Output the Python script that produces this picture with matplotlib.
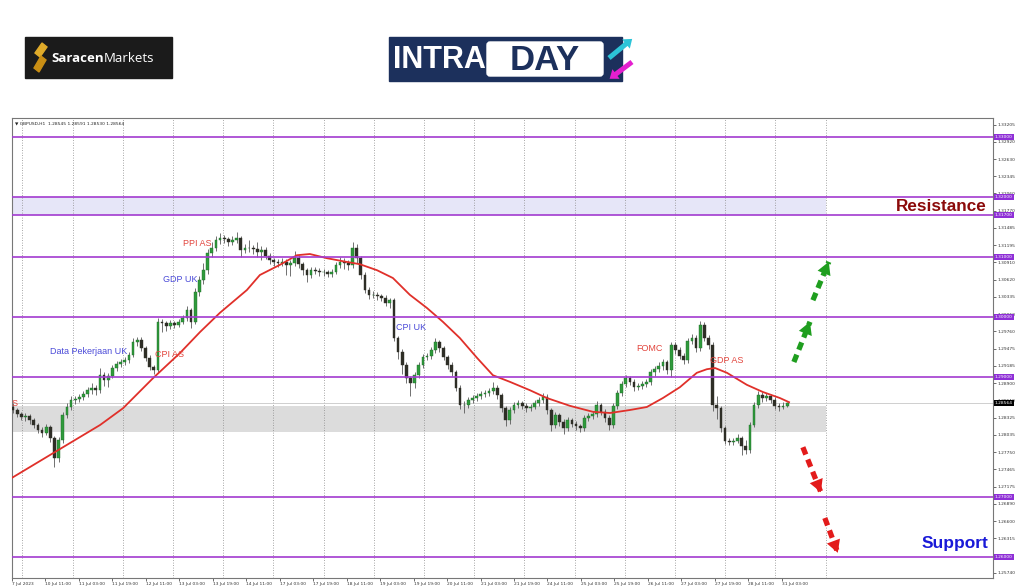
import numpy as np
import matplotlib.pyplot as plt
from matplotlib.patches import Rectangle, Polygon, FancyArrow, FancyBboxPatch

# GBPUSD H1 candles, two hours per candle (7 Jul 2023 19:00 -> 31 Jul 2023 06:00)
first_open = 1.2850
closes = [
    1.2845, 1.2838, 1.2833, 1.2835, 1.2828, 1.2820, 1.2812, 1.2807, 1.2817, 1.2798,
    1.2765, 1.2795, 1.2837, 1.2850, 1.2862, 1.2863, 1.2867, 1.2872, 1.2878, 1.2882,
    1.2878, 1.2903, 1.2895, 1.2902, 1.2915, 1.2922, 1.2925, 1.2928, 1.2937, 1.2958,
    1.2962, 1.2948, 1.2932, 1.2917, 1.2912, 1.2992, 1.2990, 1.2985, 1.2990, 1.2987,
    1.2992, 1.2998, 1.3012, 1.2992, 1.3042, 1.3062, 1.3078, 1.3107, 1.3115, 1.3128,
    1.3132, 1.3130, 1.3125, 1.3128, 1.3132, 1.3112, 1.3115, 1.3115, 1.3113, 1.3108,
    1.3112, 1.3102, 1.3095, 1.3092, 1.3090, 1.3092, 1.3087, 1.3090, 1.3098, 1.3088,
    1.3078, 1.3070, 1.3078, 1.3077, 1.3075, 1.3075, 1.3072, 1.3075, 1.3087, 1.3092,
    1.3090, 1.3087, 1.3115, 1.3098, 1.3070, 1.3045, 1.3037, 1.3037, 1.3035, 1.3032,
    1.3023, 1.3028, 1.2965, 1.2942, 1.2920, 1.2898, 1.2890, 1.2903, 1.2920, 1.2933,
    1.2935, 1.2945, 1.2958, 1.2948, 1.2933, 1.2920, 1.2908, 1.2882, 1.2853, 1.2853,
    1.2862, 1.2865, 1.2868, 1.2872, 1.2873, 1.2877, 1.2882, 1.2870, 1.2848, 1.2828,
    1.2845, 1.2853, 1.2857, 1.2852, 1.2848, 1.2850, 1.2857, 1.2862, 1.2867, 1.2845,
    1.2820, 1.2837, 1.2825, 1.2815, 1.2828, 1.2822, 1.2818, 1.2815, 1.2832, 1.2835,
    1.2838, 1.2853, 1.2842, 1.2832, 1.2820, 1.2852, 1.2873, 1.2888, 1.2898, 1.2892,
    1.2883, 1.2885, 1.2888, 1.2892, 1.2908, 1.2913, 1.2918, 1.2925, 1.2912, 1.2953,
    1.2945, 1.2935, 1.2928, 1.2960, 1.2965, 1.2948, 1.2987, 1.2965, 1.2953, 1.2853,
    1.2848, 1.2815, 1.2793, 1.2792, 1.2793, 1.2798, 1.2785, 1.2778, 1.2820, 1.2853,
    1.2870, 1.2865, 1.2868, 1.2862, 1.2852, 1.2850, 1.2852, 1.28564,
]
highs = [
    1.2856, 1.2848, 1.2841, 1.2840, 1.2838, 1.2831, 1.2823, 1.2816, 1.2822, 1.2820,
    1.2802, 1.2800, 1.2842, 1.2856, 1.2868, 1.2868, 1.2872, 1.2877, 1.2884, 1.2890,
    1.2886, 1.2915, 1.2908, 1.2907, 1.2920, 1.2927, 1.2930, 1.2933, 1.2942, 1.2965,
    1.2967, 1.2966, 1.2952, 1.2936, 1.2920, 1.2998, 1.2997, 1.2994, 1.2995, 1.2994,
    1.2997, 1.3004, 1.3018, 1.3015, 1.3048, 1.3068, 1.3090, 1.3113, 1.3125, 1.3135,
    1.3140, 1.3137, 1.3134, 1.3135, 1.3142, 1.3135, 1.3122, 1.3128, 1.3120, 1.3125,
    1.3118, 1.3116, 1.3106, 1.3099, 1.3097, 1.3098, 1.3096, 1.3095, 1.3110, 1.3104,
    1.3092, 1.3082, 1.3084, 1.3083, 1.3081, 1.3080, 1.3078, 1.3080, 1.3092, 1.3100,
    1.3098, 1.3095, 1.3125, 1.3122, 1.3102, 1.3075, 1.3050, 1.3043, 1.3041, 1.3038,
    1.3036, 1.3032, 1.3032, 1.2968, 1.2946, 1.2925, 1.2902, 1.2908, 1.2925, 1.2938,
    1.2940, 1.2950, 1.2965, 1.2962, 1.2952, 1.2937, 1.2925, 1.2912, 1.2886, 1.2860,
    1.2867, 1.2870, 1.2873, 1.2877, 1.2878, 1.2882, 1.2892, 1.2887, 1.2874, 1.2852,
    1.2850, 1.2858, 1.2862, 1.2860, 1.2856, 1.2855, 1.2861, 1.2867, 1.2873, 1.2872,
    1.2848, 1.2842, 1.2840, 1.2830, 1.2833, 1.2832, 1.2826, 1.2822, 1.2836, 1.2840,
    1.2843, 1.2860, 1.2857, 1.2846, 1.2836, 1.2856, 1.2878, 1.2893, 1.2903, 1.2902,
    1.2896, 1.2890, 1.2893, 1.2897, 1.2913, 1.2918, 1.2925, 1.2930, 1.2928, 1.2958,
    1.2958, 1.2950, 1.2940, 1.2965, 1.2972, 1.2970, 1.2993, 1.2992, 1.2970, 1.2958,
    1.2868, 1.2852, 1.2818, 1.2798, 1.2799, 1.2805, 1.2802, 1.2795, 1.2825, 1.2858,
    1.2877, 1.2875, 1.2874, 1.2872, 1.2866, 1.2857, 1.2858, 1.2859,
]
lows = [
    1.2840, 1.2833, 1.2828, 1.2826, 1.2822, 1.2815, 1.2806, 1.2800, 1.2803, 1.2792,
    1.2750, 1.2758, 1.2790, 1.2832, 1.2845, 1.2855, 1.2858, 1.2862, 1.2866, 1.2872,
    1.2870, 1.2874, 1.2885, 1.2883, 1.2898, 1.2910, 1.2917, 1.2920, 1.2924, 1.2933,
    1.2952, 1.2943, 1.2927, 1.2912, 1.2905, 1.2908, 1.2975, 1.2977, 1.2980, 1.2981,
    1.2983, 1.2988, 1.2993, 1.2982, 1.2988, 1.3035, 1.3055, 1.3072, 1.3100, 1.3110,
    1.3122, 1.3123, 1.3118, 1.3120, 1.3124, 1.3100, 1.3106, 1.3108, 1.3105, 1.3100,
    1.3095, 1.3096, 1.3088, 1.3085, 1.3084, 1.3085, 1.3070, 1.3068, 1.3085, 1.3082,
    1.3070, 1.3058, 1.3065, 1.3071, 1.3069, 1.3068, 1.3066, 1.3067, 1.3071, 1.3082,
    1.3080, 1.3078, 1.3082, 1.3090, 1.3064, 1.3040, 1.3030, 1.3031, 1.3029, 1.3026,
    1.3018, 1.3015, 1.2960, 1.2930, 1.2905, 1.2890, 1.2868, 1.2882, 1.2898, 1.2915,
    1.2928, 1.2930, 1.2940, 1.2942, 1.2928, 1.2914, 1.2902, 1.2876, 1.2846, 1.2840,
    1.2848, 1.2857, 1.2860, 1.2863, 1.2866, 1.2868, 1.2872, 1.2864, 1.2842, 1.2818,
    1.2822, 1.2840, 1.2848, 1.2846, 1.2842, 1.2843, 1.2846, 1.2852, 1.2857, 1.2838,
    1.2810, 1.2815, 1.2818, 1.2805, 1.2810, 1.2816, 1.2812, 1.2809, 1.2810, 1.2827,
    1.2830, 1.2833, 1.2836, 1.2825, 1.2812, 1.2815, 1.2847, 1.2868, 1.2883, 1.2886,
    1.2877, 1.2878, 1.2880, 1.2883, 1.2887, 1.2902, 1.2908, 1.2912, 1.2905, 1.2900,
    1.2938, 1.2930, 1.2922, 1.2924, 1.2955, 1.2942, 1.2944, 1.2960, 1.2947, 1.2843,
    1.2830, 1.2808, 1.2788, 1.2786, 1.2787, 1.2790, 1.2770, 1.2772, 1.2774, 1.2816,
    1.2848, 1.2858, 1.2860, 1.2856, 1.2846, 1.2844, 1.2846, 1.2850,
]

# red moving average, read along the hour axis
ma_hours = [0, 19.6, 42.1, 53.1, 67.4, 80.3, 89.9, 99.4, 112.3, 118.5,
            128.1, 136.2, 142.4, 150.6, 158.2, 166.3, 174.5, 182.1, 190.2, 198.4,
            206.0, 214.1, 222.3, 229.9, 238.0, 247.6, 255.7, 266.7, 277.7, 285.9,
            295.4, 303.5, 311.2, 319.3, 327.4, 332.2, 336.1, 341.8, 351.3, 359.0,
            367.1, 371.5]
ma_values = [1.2732, 1.2773, 1.2820, 1.2848, 1.2898, 1.2940, 1.2975, 1.3007, 1.3045, 1.3070,
             1.3087, 1.3103, 1.3105, 1.3098, 1.3093, 1.3088, 1.3078, 1.3065, 1.3037, 1.3015,
             1.2992, 1.2965, 1.2932, 1.2903, 1.2892, 1.2878, 1.2865, 1.2852, 1.2842, 1.2840,
             1.2845, 1.2850, 1.2865, 1.2883, 1.2907, 1.2913, 1.2915, 1.2907, 1.2887, 1.2875,
             1.2865, 1.2858]

# horizontal levels and zones
levels = [1.3300, 1.3200, 1.3170, 1.3100, 1.3000, 1.2900, 1.2700, 1.2600]
resistance_zone = (1.3170, 1.3200)
support_zone = (1.2808, 1.2852)
last_price = 1.28564

# news events
event_names = ["PPI AS", "GDP UK", "Data Pekerjaan UK", "CPI AS", "CPI UK", "FOMC", "GDP AS", "S"]
event_hours = [81.7, 72.2, 18.2, 68.4, 183.6, 298.3, 333.7, -0.3]
event_prices = [1.3123, 1.3063, 1.2942, 1.2938, 1.2983, 1.2948, 1.2928, 1.2856]
event_colors = ["#e2443c", "#4a4ad8", "#4a4ad8", "#e2443c", "#4a4ad8", "#e2443c", "#e2443c", "#e2443c"]

# axis labels
x_labels = ["7 Jul 2023", "10 Jul 11:00", "11 Jul 03:00", "11 Jul 19:00", "12 Jul 11:00",
            "13 Jul 03:00", "13 Jul 19:00", "14 Jul 11:00", "17 Jul 03:00", "17 Jul 19:00",
            "18 Jul 11:00", "19 Jul 03:00", "19 Jul 19:00", "20 Jul 11:00", "21 Jul 03:00",
            "21 Jul 19:00", "24 Jul 11:00", "25 Jul 03:00", "25 Jul 19:00", "26 Jul 11:00",
            "27 Jul 03:00", "27 Jul 19:00", "28 Jul 11:00", "31 Jul 03:00"]
y_labels = ["1.33205", "1.32920", "1.32630", "1.32345", "1.32060", "1.31770", "1.31485",
            "1.31195", "1.30910", "1.30620", "1.30335", "1.30050", "1.29760", "1.29475",
            "1.29185", "1.28900", "1.28610", "1.28325", "1.28035", "1.27750", "1.27465",
            "1.27175", "1.26890", "1.26600", "1.26315", "1.25740"]

bold_font = "Liberation Sans"

fig = plt.figure(figsize=(10.24, 5.87), dpi=100)

# --- header logos (pixel coordinates) ---
bg = fig.add_axes([0, 0, 1, 1])
bg.set_xlim(0, 1024)
bg.set_ylim(587, 0)
bg.axis("off")

bg.add_patch(Rectangle((25, 37), 147, 41, color="#1b1b1b"))
bg.add_patch(Polygon([(42, 43), (47, 47), (40, 57), (35, 53)], color="#e0ab2a"))
bg.add_patch(Polygon([(41, 56), (46, 60), (39, 72), (34, 68)], color="#c98e14"))
t1 = bg.text(51, 58, "Saracen", color="white", fontsize=9.5, fontweight="bold",
             family="Open Sans", va="center", ha="left")
bg.annotate("Markets", xy=(1, 0.5), xycoords=t1, va="center", ha="left",
            color="white", fontsize=9.5, family="Open Sans")

bg.add_patch(Rectangle((389, 37), 233, 44, color="#1c305c"))
bg.text(393, 60, "INTRA", color="white", fontsize=22, fontweight="bold",
        family=bold_font, va="center", ha="left")
bg.add_patch(FancyBboxPatch((487, 42), 116, 34, boxstyle="round,pad=0,rounding_size=3",
                            color="white"))
bg.text(545, 60, "DAY", color="#1c305c", fontsize=25, fontweight="bold",
        family=bold_font, va="center", ha="center")
bg.add_patch(FancyArrow(609, 58, 17, -14, width=5, head_width=12, head_length=8,
                        color="#2cc4d8", lw=0))
bg.add_patch(FancyArrow(632, 62, -16, 12, width=5, head_width=12, head_length=8,
                        color="#e41fcf", lw=0))

# --- price chart ---
ax = fig.add_axes([12 / 1024, 1 - 578 / 587, 981 / 1024, 460 / 587])
ax.set_xlim(0, 469)
ax.set_ylim(1.2565, 1.33317)

# zones
ax.fill_between([0, 389], *resistance_zone, color="#e6e6f8", lw=0, zorder=1)
ax.fill_between([0, 389], *support_zone, color="#dcdcdc", lw=0, zorder=1)

# day separators
for h in range(5, 390, 24):
    ax.axvline(h, color="#8a8a8a", ls=(0, (1, 2)), lw=0.6, zorder=1)

# candles
o = np.r_[first_open, closes[:-1]]
c = np.array(closes)
x = np.linspace(0.5, 370.6, len(c))
up = c >= o
ax.vlines(x, lows, highs, color="#5a5a5a", lw=0.6, zorder=3)
body = np.maximum(np.abs(c - o), 0.00004)
ax.bar(x[up], body[up], bottom=o[up], width=1.3, color="#2f9a3c",
       edgecolor="#1e6a28", lw=0.3, zorder=4)
ax.bar(x[~up], body[~up], bottom=c[~up], width=1.3, color="#2e2e26",
       edgecolor="#2e2e26", lw=0.3, zorder=4)

# moving average
ax.plot(ma_hours, ma_values, color="#e0302a", lw=1.3, zorder=5)

# levels with price tags
for lv in levels:
    ax.axhline(lv, color="#a23bd0", lw=1.2, zorder=6)
    ax.text(1.002, lv, f"{lv:.5f}", transform=ax.get_yaxis_transform(), fontsize=3.2,
            color="white", va="center", ha="left", clip_on=False, zorder=10,
            bbox=dict(boxstyle="square,pad=0.25", fc="#8e2fd6", ec="none"))
ax.axhline(last_price, color="#c8c8c8", lw=0.6, zorder=2)
ax.text(1.002, last_price, f"{last_price:.5f}", transform=ax.get_yaxis_transform(),
        fontsize=3.2, color="white", va="center", ha="left", clip_on=False, zorder=10,
        bbox=dict(boxstyle="square,pad=0.25", fc="black", ec="none"))

# event labels
for name, h, p, col in zip(event_names, event_hours, event_prices, event_colors):
    ax.text(h, p, name, color=col, fontsize=6.5, family="Liberation Sans",
            va="center", ha="left", zorder=7)

# direction arrows
def dashed_arrow(x0, y0, x1, y1, color):
    ax.plot([x0, x1], [y0, y1], color=color, lw=3.8, dashes=(1.5, 1.0),
            solid_capstyle="butt", zorder=8)
    ax.annotate("", xy=(x1, y1), xytext=(x0, y0), zorder=8,
                arrowprops=dict(arrowstyle="-|>,head_length=0.9,head_width=0.5",
                                color=color, lw=0, shrinkA=0, shrinkB=0,
                                mutation_scale=10))

dashed_arrow(373.8, 1.2925, 381.5, 1.2992, "#1f9e1f")
dashed_arrow(382.9, 1.3028, 390.5, 1.3092, "#1f9e1f")
dashed_arrow(378.1, 1.2783, 386.7, 1.2708, "#e31b1b")
dashed_arrow(388.6, 1.2665, 394.8, 1.2607, "#e31b1b")

ax.text(0.9939, 1.3184, "Resistance", transform=ax.get_yaxis_transform(), ha="right",
        va="center", color="#8b0a0a", fontsize=12.3, fontweight="bold", family=bold_font, zorder=9)
ax.text(0.995, 1.2622, "Support", transform=ax.get_yaxis_transform(), ha="right",
        va="center", color="#1a1ad8", fontsize=12.5, fontweight="bold", family=bold_font, zorder=9)

ax.text(0.003, 0.993, "\u25bc GBPUSD,H1  1.28545 1.28591 1.28530 1.28564",
        transform=ax.transAxes, fontsize=3.2, va="top", ha="left", color="#222222")

# axes styling
ax.yaxis.tick_right()
ax.set_yticks([float(s) for s in y_labels])
ax.set_yticklabels(y_labels)
ax.set_xticks(np.arange(len(x_labels)) * 16)
ax.set_xticklabels(x_labels, ha="left")
ax.tick_params(labelsize=3.2, length=2, pad=1, colors="#333333", width=0.5)
for s in ax.spines.values():
    s.set_color("#777777")
    s.set_linewidth(0.8)

plt.savefig("out.png", dpi=100)
